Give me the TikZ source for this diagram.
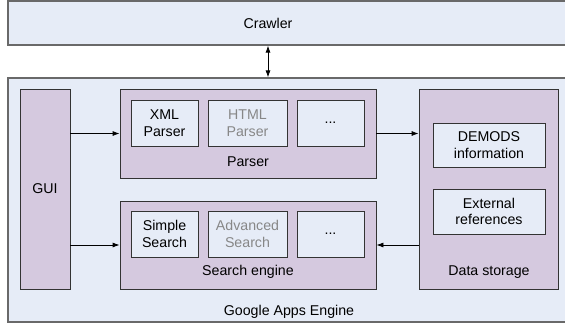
\documentclass[tikz,border=0pt]{standalone}
\usepackage{fontspec}
\setmainfont{Liberation Sans}
\usepackage{tikz}
\usetikzlibrary{positioning}
\usetikzlibrary{arrows.meta}
\definecolor{paneblue}{RGB}{230,236,247}
\definecolor{panelilac}{RGB}{213,201,223}
\definecolor{framegray}{RGB}{105,105,105}
\definecolor{textgray}{RGB}{135,135,135}

\begin{document}
\begin{tikzpicture}[x=1pt, y=-1pt,
    every node/.style={font=\fontsize{14.2}{16.5}\selectfont},
    layer/.style={rectangle, draw=framegray, line width=1.2pt, fill=paneblue},
    group/.style={rectangle, draw=black!80, line width=0.8pt, fill=panelilac, inner sep=0pt},
    part/.style={rectangle, draw=black!80, line width=0.8pt, fill=paneblue, align=center, inner sep=0pt, minimum height=46pt},
    flow/.style={-{Latex[length=7pt,width=5pt]}, line width=0.8pt},
    twoway/.style={{Latex[length=7pt,width=5pt]}-{Latex[length=7pt,width=5pt]}, line width=0.8pt}]
    \useasboundingbox (0,0) rectangle (565,325);
    \clip (0,0) rectangle (565,325);
    \path
        node (crawler) at (289,23)  [layer, minimum width=562pt, minimum height=44pt] {}
        node (gae)     at (289,200) [layer, minimum width=562pt, minimum height=244pt] {};
    \path
        node (gui)    at (45,189)    [group, minimum width=50pt,  minimum height=200pt] {GUI}
        node (parser) at (248,133.5) [group, minimum width=256pt, minimum height=89pt] {}
        node (search) at (248,245)   [group, minimum width=256pt, minimum height=88pt] {}
        node (data)   at (488.5,189) [group, minimum width=139pt, minimum height=200pt] {};
    % parser parts
    \path
        node (xml)   at (164.5,123) [part, minimum width=67pt] {XML\\Parser}
        node (html)  at (247.5,123) [part, minimum width=79pt, text=textgray] {HTML\\Parser}
        node (pmore) at (330.5,123) [part, minimum width=67pt] {...};
    % search parts
    \path
        node (simple)   at (164.5,234) [part, minimum width=67pt] {Simple\\Search}
        node (advanced) at (247.5,234) [part, minimum width=79pt, text=textgray] {Advanced\\Search}
        node (smore)    at (330.5,234) [part, minimum width=67pt] {...};
    % storage parts
    \path
        node (demods) at (489,145)   [part, minimum width=112pt, minimum height=44pt] {DEMODS\\information}
        node (extref) at (489,211.5) [part, minimum width=112pt, minimum height=45pt] {External\\references};
    % captions
    \path
        node (crawlertxt) at (268,23)  {Crawler}
        node (parsertxt)  at (248,162) {Parser}
        node (searchtxt)  at (248,272) {Search engine}
        node (datatxt)    at (489,272) {Data storage}
        node (gaetxt)     at (289,312) {Google Apps Engine};
    \coordinate (link) at (268,0);
    \draw[flow] (gui.east |- parser.west) -- (parser.west);
    \draw[flow] (gui.east |- search.west) -- (search.west);
    \draw[flow] (parser.east) -- (data.west |- parser.east);
    \draw[flow] (data.west |- search.east) -- (search.east);
    \draw[twoway] (crawler.south -| link) -- (gae.north -| link);
\end{tikzpicture}
\end{document}
